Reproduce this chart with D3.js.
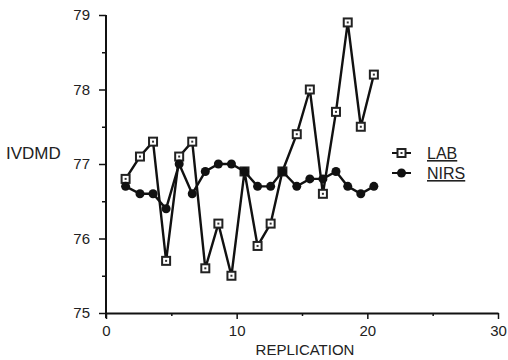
<!DOCTYPE html>
<html>
<head>
<meta charset="utf-8">
<script src="https://cdn.jsdelivr.net/npm/d3@7"></script>
<style>
  body { margin: 0; background: #fff; }
  svg { display: block; font-family: "Liberation Sans", Arial, sans-serif; }
  .axis path, .axis line { stroke: #111; }
  .axis text { fill: #222; font-size: 15px; }
</style>
</head>
<body>
<div class="chart"></div>
<script>
// Replication positions
const replication = [1.5, 2.6, 3.6, 4.6, 5.6, 6.6, 7.6, 8.6, 9.6, 10.6,
                     11.6, 12.6, 13.5, 14.6, 15.6, 16.6, 17.6, 18.5, 19.5, 20.5]
const lab  = [76.8, 77.1, 77.3, 75.7, 77.1, 77.3, 75.6, 76.2, 75.5, 76.9,
              75.9, 76.2, 76.9, 77.4, 78.0, 76.6, 77.7, 78.9, 77.5, 78.2]
const nirs = [76.7, 76.6, 76.6, 76.4, 77.0, 76.6, 76.9, 77.0, 77.0, 76.9,
              76.7, 76.7, 76.9, 76.7, 76.8, 76.8, 76.9, 76.7, 76.6, 76.7]
const xTicks = [0, 10, 20, 30]
const xMinor = [5, 15, 25]
const yTicks = [75, 76, 77, 78, 79]
const yMinor = [75.5, 76.5, 77.5, 78.5]
const seriesNames = ["LAB", "NIRS"]

const width = 508, height = 360

const xScale = d3.scaleLinear().domain([0, 30]).range([106, 498])
const yScale = d3.scaleLinear().domain([75, 79]).range([313, 15])

const svg = d3.select(".chart").append("svg")
    .attr("width", width)
    .attr("height", height)

// minor ticks first (no labels)
svg.append("g")
    .attr("class", "axis")
    .attr("transform", `translate(0,${yScale(75)})`)
    .call(d3.axisBottom(xScale).tickValues(xMinor).tickSize(3).tickFormat(""))
    .call(g => g.select(".domain").remove())
    .selectAll("line").attr("stroke-width", 1.5)

svg.append("g")
    .attr("class", "axis")
    .attr("transform", `translate(${xScale(0)},0)`)
    .call(d3.axisLeft(yScale).tickValues(yMinor).tickSize(4).tickFormat(""))
    .call(g => g.select(".domain").remove())
    .selectAll("line").attr("stroke-width", 1.5)

// x axis
svg.append("g")
    .attr("class", "axis x-axis")
    .attr("transform", `translate(0,${yScale(75)})`)
    .call(d3.axisBottom(xScale).tickValues(xTicks).tickSize(6).tickSizeOuter(0).tickPadding(6).tickFormat(d3.format("d")))
    .call(g => g.select(".domain").attr("stroke-width", 2))
    .call(g => g.selectAll("line").attr("stroke-width", 1.5))

// y axis
svg.append("g")
    .attr("class", "axis y-axis")
    .attr("transform", `translate(${xScale(0)},0)`)
    .call(d3.axisLeft(yScale).tickValues(yTicks).tickSize(7).tickSizeOuter(0).tickPadding(9).tickFormat(d3.format("d")))
    .call(g => g.select(".domain").attr("stroke-width", 2).attr("d", `M0,${yScale(79)}V${yScale(75) + 5}`))
    .call(g => g.selectAll("line").attr("stroke-width", 1.5))

// axis titles
svg.append("text")
    .attr("x", 6)
    .attr("y", 159)
    .attr("font-size", 17)
    .attr("fill", "#222")
    .text("IVDMD")

svg.append("text")
    .attr("x", 305)
    .attr("y", 355)
    .attr("text-anchor", "middle")
    .attr("font-size", 15)
    .attr("fill", "#222")
    .text("REPLICATION")

const line = d3.line()
    .x((d, i) => xScale(replication[i]))
    .y(d => yScale(d))

// LAB line + squares
svg.append("path")
    .datum(lab)
    .attr("fill", "none")
    .attr("stroke", "#111")
    .attr("stroke-width", 2.4)
    .attr("d", line)

function drawSquare(g, cx, cy) {
    g.append("rect")
        .attr("x", cx - 4).attr("y", cy - 4)
        .attr("width", 8).attr("height", 8)
        .attr("fill", "#fff")
        .attr("stroke", "#222")
        .attr("stroke-width", 2)
    g.append("rect")
        .attr("x", cx - 1).attr("y", cy - 1)
        .attr("width", 2).attr("height", 2)
        .attr("fill", "#333")
}

const labPts = svg.append("g")
lab.forEach((v, i) => drawSquare(labPts, xScale(replication[i]), yScale(v)))

// NIRS line + dots
svg.append("path")
    .datum(nirs)
    .attr("fill", "none")
    .attr("stroke", "#111")
    .attr("stroke-width", 2.4)
    .attr("d", line)

svg.append("g").selectAll("circle")
    .data(nirs)
    .enter()
    .append("circle")
        .attr("cx", (d, i) => xScale(replication[i]))
        .attr("cy", d => yScale(d))
        .attr("r", 4.5)
        .attr("fill", "#111")

// legend
const legend = svg.append("g").attr("transform", "translate(392,153)")
seriesNames.forEach((name, i) => {
    const y = i * 20
    legend.append("line")
        .attr("x1", 0).attr("x2", 19)
        .attr("y1", y).attr("y2", y)
        .attr("stroke", "#111").attr("stroke-width", 2)
    if (name === "LAB") drawSquare(legend, 9.5, y)
    else legend.append("circle").attr("cx", 9.5).attr("cy", y).attr("r", 4.5).attr("fill", "#111")
    legend.append("text")
        .attr("x", 35)
        .attr("y", y + 6)
        .attr("font-size", 16)
        .attr("fill", "#222")
        .attr("text-decoration", "underline")
        .text(name)
})
</script>
</body>
</html>
